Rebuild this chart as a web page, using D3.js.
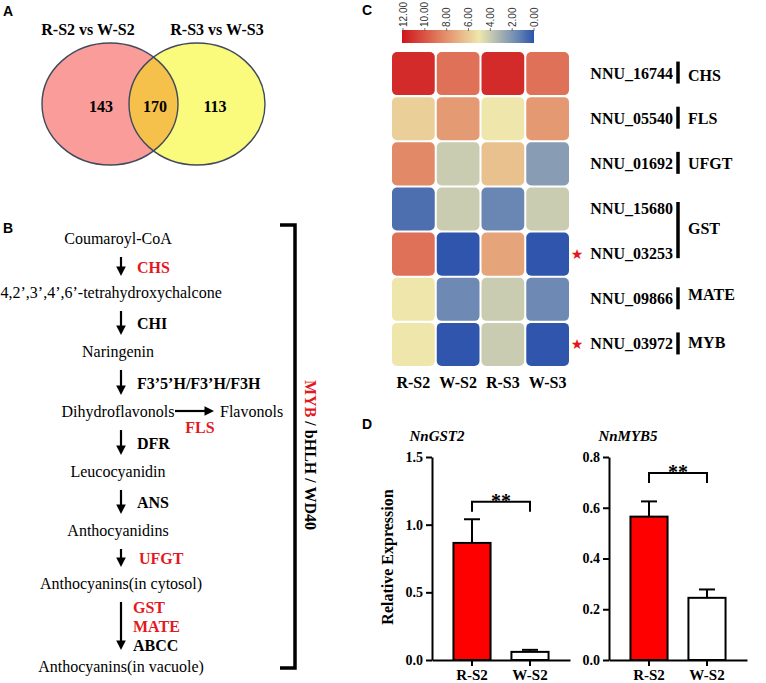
<!DOCTYPE html>
<html><head><meta charset="utf-8">
<script src="https://cdn.jsdelivr.net/npm/d3@7"></script>
<style>
html,body{margin:0;padding:0;background:#fff;}
svg{display:block;}
</style></head>
<body>
<svg id="fig" width="766" height="683"></svg>
<script>
// ---------------- DATA ----------------
const vennSets = ["R-S2 vs W-S2", "R-S3 vs W-S3"];
const vennCounts = [143, 170, 113]; // left only, shared, right only

const pathwayCompounds = ["Coumaroyl-CoA", "4,2’,3’,4’,6’-tetrahydroxychalcone", "Naringenin",
  "Dihydroflavonols", "Leucocyanidin", "Anthocyanidins", "Anthocyanins(in cytosol)", "Anthocyanins(in vacuole)"];
const pathwayEnzymes = [["CHS"], ["CHI"], ["F3’5’H/F3’H/F3H"], ["DFR"], ["ANS"], ["UFGT"], ["GST", "MATE", "ABCC"]];
const branchProduct = "Flavonols";
const branchEnzyme = "FLS";
const highlightedEnzymes = ["CHS", "FLS", "UFGT", "GST", "MATE", "MYB"];
const regulators = ["MYB", "bHLH", "WD40"];

const heatSamples = ["R-S2", "W-S2", "R-S3", "W-S3"];
const heatGenes = ["NNU_16744", "NNU_05540", "NNU_01692", "NNU_15680", "NNU_03253", "NNU_09866", "NNU_03972"];
const heatFamilies = ["CHS", "FLS", "UFGT", "GST", "GST", "MATE", "MYB"];
const heatValues = [
  [11.3, 9.0, 11.3, 9.0],
  [5.8, 7.6, 5.0, 7.7],
  [8.2, 4.0, 6.3, 2.3],
  [0.8, 4.0, 1.5, 4.0],
  [9.0, 0.1, 7.3, 0.1],
  [5.0, 1.6, 4.0, 1.6],
  [5.0, 0.1, 4.0, 0.1]
];
const starredGenes = ["NNU_03253", "NNU_03972"];
const colorbarTicks = [12, 10, 8, 6, 4, 2, 0];

const qpcrGenes = ["NnGST2", "NnMYB5"];
const qpcrSamples = ["R-S2", "W-S2"];
const qpcrMeans = [[0.865, 0.06], [0.565, 0.245]];
const qpcrErrors = [[0.175, 0.015], [0.06, 0.033]];
const qpcrYMax = [1.5, 0.8];
const qpcrYTicks = [[0, 0.5, 1.0, 1.5], [0, 0.2, 0.4, 0.6, 0.8]];
const qpcrSigLevel = [1.17, 0.737];
const qpcrSig = ["**", "**"];

// ---------------- STYLE ----------------
const SERIF = "'Liberation Serif','Times New Roman',serif";
const SANS = "'Liberation Sans',Arial,sans-serif";
const RED = "#e3191f";

const svg = d3.select("#fig");
svg.append("rect").attr("width", 766).attr("height", 683).attr("fill", "#fff");
const defs = svg.append("defs");

function panelLabel(t, x, y) {
  svg.append("text").attr("x", x).attr("y", y).text(t)
    .attr("font-family", SANS).attr("font-weight", "bold").attr("font-size", 14).attr("fill", "#000");
}
panelLabel("A", 3, 16);
panelLabel("B", 3, 233);
panelLabel("C", 362, 15);
panelLabel("D", 362, 429);

// arrow helper: line + filled triangular head
function arrow(g, x1, y1, x2, y2) {
  const ang = Math.atan2(y2 - y1, x2 - x1);
  const L = 9.5, W = 4.8;
  const bx = x2 - L * Math.cos(ang), by = y2 - L * Math.sin(ang);
  g.append("line").attr("x1", x1).attr("y1", y1).attr("x2", bx + Math.cos(ang)).attr("y2", by + Math.sin(ang))
    .attr("stroke", "#000").attr("stroke-width", 2.2);
  const px = -Math.sin(ang), py = Math.cos(ang);
  g.append("path").attr("d", `M${x2},${y2}L${bx + W * px},${by + W * py}L${bx - W * px},${by - W * py}Z`)
    .attr("fill", "#000");
}

// ---------------- A: Venn ----------------
(function () {
  const g = svg.append("g");
  const cx = d3.scalePoint().domain(vennSets).range([110, 197]);
  const cy = 104, rx = 68, ry = 61;
  defs.append("clipPath").attr("id", "clipL").append("ellipse")
    .attr("cx", cx(vennSets[0])).attr("cy", cy).attr("rx", rx).attr("ry", ry);
  const fills = ["#f99c9a", "#fafa7c"];
  vennSets.forEach((s, i) => {
    g.append("ellipse").attr("cx", cx(s)).attr("cy", cy).attr("rx", rx).attr("ry", ry)
      .attr("fill", fills[i]);
  });
  g.append("ellipse").attr("cx", cx(vennSets[1])).attr("cy", cy).attr("rx", rx).attr("ry", ry)
    .attr("fill", "#f6c14a").attr("clip-path", "url(#clipL)");
  vennSets.forEach((s, i) => {
    g.append("ellipse").attr("cx", cx(s)).attr("cy", cy).attr("rx", rx).attr("ry", ry)
      .attr("fill", "none").attr("stroke", "#414a5c").attr("stroke-width", 1.4);
    g.append("text").attr("x", cx(s) + (i === 0 ? -22 : 20)).attr("y", 35).attr("text-anchor", "middle")
      .attr("font-family", SERIF).attr("font-weight", "bold").attr("font-size", 16).text(s);
  });
  const nx = [cx(vennSets[0]) - 9, (cx(vennSets[0]) + cx(vennSets[1])) / 2 + 1.5, cx(vennSets[1]) + 18];
  vennCounts.forEach((c, i) => {
    g.append("text").attr("x", nx[i]).attr("y", 112).attr("text-anchor", "middle")
      .attr("font-family", SERIF).attr("font-weight", "bold").attr("font-size", 16).text(c);
  });
})();

// ---------------- B: Pathway ----------------
(function () {
  const g = svg.append("g");
  // vertical positions of compound label centres (layout)
  const gaps = [54, 59, 60, 60, 59, 53, 83];
  const cys = [239];
  gaps.forEach(gp => cys.push(cys[cys.length - 1] + gp));
  const ax = 121;

  pathwayCompounds.forEach((c, i) => {
    const t = g.append("text").attr("y", cys[i] + 5).attr("text-anchor", "middle")
      .attr("font-family", SERIF).attr("font-size", 16).attr("fill", "#000").text(c);
    const w = t.node().getComputedTextLength();
    const base = 118 + (i >= 6 ? 3 : 0);
    t.attr("x", base - w / 2 < 12 ? w / 2 + 0.5 : base);
  });
  pathwayEnzymes.forEach((ens, i) => {
    const y0 = cys[i] + 18, y1 = cys[i + 1] - 17;
    arrow(g, ax, y0, ax, y1);
    const mid = (y0 + y1) / 2;
    ens.forEach((e, j) => {
      const yy = ens.length === 1 ? mid + 6 : mid - 19 + j * 19 + 6;
      g.append("text").attr("x", ens.length === 1 ? (i === 5 ? 139 : 137) : 133).attr("y", yy)
        .attr("font-family", SERIF).attr("font-weight", "bold").attr("font-size", 16)
        .attr("fill", highlightedEnzymes.includes(e) ? RED : "#000").text(e);
    });
  });
  // branch: Dihydroflavonols -> Flavonols
  const by = cys[3];
  arrow(g, 175, by - 1, 214, by - 1);
  g.append("text").attr("x", 220).attr("y", by + 5).attr("font-family", SERIF).attr("font-size", 16).text(branchProduct);
  g.append("text").attr("x", 200).attr("y", by + 21).attr("text-anchor", "middle")
    .attr("font-family", SERIF).attr("font-weight", "bold").attr("font-size", 16)
    .attr("fill", RED).text(branchEnzyme);

  // bracket
  g.append("path").attr("d", "M280,225H295V668H280").attr("fill", "none")
    .attr("stroke", "#000").attr("stroke-width", 3.5);
  const rt = g.append("text").attr("transform", "translate(311,455) rotate(90)")
    .attr("text-anchor", "middle").attr("dominant-baseline", "central")
    .attr("font-family", SERIF).attr("font-weight", "bold").attr("font-size", 16);
  regulators.forEach((r, i) => {
    if (i > 0) rt.append("tspan").attr("fill", "#000").text(" / ");
    rt.append("tspan").attr("fill", highlightedEnzymes.includes(r) ? RED : "#000").text(r);
  });
})();

// ---------------- C: Heatmap ----------------
(function () {
  const g = svg.append("g");
  const color = d3.scaleLinear().domain([0, 1.5, 4, 5, 8, 12])
    .range(["#2b53ab", "#6a87b4", "#c9ccb1", "#eee6aa", "#e3906c", "#cf141c"]);
  const x = d3.scaleBand().domain(heatSamples).range([392, 569]).paddingInner(0.045);
  const y = d3.scaleBand().domain(heatGenes).range([52, 366]).paddingInner(0.045);

  // colorbar
  const cb = d3.scaleLinear().domain([12, 0]).range([403, 534]);
  const grad = defs.append("linearGradient").attr("id", "cbg")
    .attr("x1", "0%").attr("x2", "100%").attr("y1", "0%").attr("y2", "0%");
  d3.range(0, 12.01, 0.5).reverse().forEach(v => {
    grad.append("stop").attr("offset", ((12 - v) / 12 * 100) + "%").attr("stop-color", color(v));
  });
  g.append("rect").attr("x", cb.range()[0] - 1).attr("y", 30).attr("width", cb.range()[1] - cb.range()[0] + 1)
    .attr("height", 13).attr("fill", "url(#cbg)");
  colorbarTicks.forEach(t => {
    g.append("line").attr("x1", cb(t)).attr("x2", cb(t)).attr("y1", 28).attr("y2", 31)
      .attr("stroke", "#555").attr("stroke-width", 0.8);
    g.append("text").attr("transform", `translate(${cb(t) + 3.5},27) rotate(-90)`)
      .attr("font-family", SANS).attr("font-size", 10).attr("fill", "#333").text(d3.format(".2f")(t));
  });

  heatGenes.forEach((gene, r) => {
    heatSamples.forEach((s, c) => {
      g.append("rect").attr("x", x(s)).attr("y", y(gene)).attr("width", x.bandwidth()).attr("height", y.bandwidth())
        .attr("rx", 5).attr("fill", color(heatValues[r][c]));
    });
    const cyy = y(gene) + y.bandwidth() / 2;
    g.append("text").attr("x", 673).attr("y", cyy + 5).attr("text-anchor", "end")
      .attr("font-family", SERIF).attr("font-weight", "bold").attr("font-size", 16).text(gene);
    if (starredGenes.includes(gene)) {
      g.append("text").attr("x", 577).attr("y", cyy + 5).attr("text-anchor", "middle")
        .attr("font-family", "'DejaVu Sans',sans-serif").attr("font-size", 14).attr("fill", "#e8141c").text("★");
    }
  });
  // family brackets
  const fams = [];
  heatFamilies.forEach((f, i) => {
    const last = fams[fams.length - 1];
    if (last && last.name === f) last.rows.push(heatGenes[i]);
    else fams.push({ name: f, rows: [heatGenes[i]] });
  });
  fams.forEach(f => {
    const c0 = y(f.rows[0]) + y.bandwidth() / 2;
    const c1 = y(f.rows[f.rows.length - 1]) + y.bandwidth() / 2;
    const single = f.rows.length === 1;
    g.append("line").attr("x1", 678).attr("x2", 678)
      .attr("y1", single ? c0 - 12 : c0 - 7).attr("y2", single ? c1 + 10 : c1 + 4)
      .attr("stroke", "#000").attr("stroke-width", 3.5);
    const offs = { CHS: 7, FLS: 5, UFGT: 5, GST: 2, MATE: 1, MYB: 0 };
    g.append("text").attr("x", 688).attr("y", (c0 + c1) / 2 + (offs[f.name] || 4))
      .attr("font-family", SERIF).attr("font-weight", "bold").attr("font-size", 16).text(f.name);
  });
  heatSamples.forEach(s => {
    g.append("text").attr("x", x(s) + x.bandwidth() / 2).attr("y", 388).attr("text-anchor", "middle")
      .attr("font-family", SERIF).attr("font-weight", "bold").attr("font-size", 16).text(s);
  });
})();

// ---------------- D: qPCR bars ----------------
(function () {
  const xRanges = [[432, 570], [609, 747]];
  const titleX = [437, 628];
  qpcrGenes.forEach((gene, k) => {
    const g = svg.append("g");
    const y = d3.scaleLinear().domain([0, qpcrYMax[k]]).range([660, 457]);
    const x = d3.scaleBand().domain(qpcrSamples).range(xRanges[k]).paddingInner(0.36).paddingOuter(0.37);
    const ya = g.append("g").attr("transform", `translate(${xRanges[k][0]},0)`)
      .call(d3.axisLeft(y).tickValues(qpcrYTicks[k]).tickFormat(d3.format(".1f")).tickSize(6).tickSizeOuter(0).tickPadding(3));
    const xa = g.append("g").attr("transform", "translate(0,660)")
      .call(d3.axisBottom(x).tickSize(6).tickSizeOuter(0).tickPadding(3));
    [ya, xa].forEach(a => {
      a.selectAll("path,line").attr("stroke", "#000").attr("stroke-width", 2);
      a.selectAll("text").attr("font-family", SERIF).attr("font-weight", "bold").attr("font-size", 15).attr("fill", "#000");
    });
    ya.selectAll("text").attr("font-size", 14);
    qpcrSamples.forEach((s, i) => {
      const m = qpcrMeans[k][i], e = qpcrErrors[k][i];
      const cx = x(s) + x.bandwidth() / 2;
      g.append("line").attr("x1", cx).attr("x2", cx).attr("y1", y(m)).attr("y2", y(m + e))
        .attr("stroke", "#000").attr("stroke-width", 2);
      g.append("line").attr("x1", cx - 8).attr("x2", cx + 8).attr("y1", y(m + e)).attr("y2", y(m + e))
        .attr("stroke", "#000").attr("stroke-width", 2);
      g.append("rect").attr("x", x(s)).attr("y", y(m)).attr("width", x.bandwidth()).attr("height", y(0) - y(m))
        .attr("fill", i === 0 ? "#ff0000" : "#fff").attr("stroke", "#000").attr("stroke-width", 2);
    });
    const c0 = x(qpcrSamples[0]) + x.bandwidth() / 2, c1 = x(qpcrSamples[1]) + x.bandwidth() / 2;
    const sy = y(qpcrSigLevel[k]);
    g.append("path").attr("d", `M${c0},${sy + 10}V${sy}H${c1}V${sy + 10}`).attr("fill", "none")
      .attr("stroke", "#000").attr("stroke-width", 2);
    g.append("text").attr("x", (c0 + c1) / 2).attr("y", sy + 6).attr("text-anchor", "middle")
      .attr("font-family", SERIF).attr("font-weight", "bold").attr("font-size", 20).text(qpcrSig[k]);
    g.append("text").attr("x", titleX[k]).attr("y", 441).attr("text-anchor", "middle")
      .attr("font-family", SERIF).attr("font-weight", "bold").attr("font-style", "italic").attr("font-size", 15)
      .text(gene);
    if (k === 0) {
      g.append("text").attr("transform", "translate(393,557) rotate(-90)").attr("text-anchor", "middle")
        .attr("font-family", SERIF).attr("font-weight", "bold").attr("font-size", 16).text("Relative Expression");
    }
  });
})();
</script>
</body></html>
